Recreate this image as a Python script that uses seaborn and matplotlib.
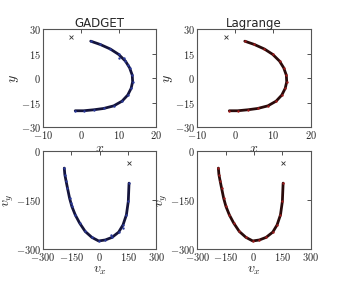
import numpy as np
import pandas as pd
import matplotlib
matplotlib.use("Agg")
import matplotlib.pyplot as plt
import seaborn as sns
from matplotlib.ticker import FuncFormatter

# orbita nel piano x-y
orb_x = [2.6, 5.1, 7.8, 10.0, 11.8, 12.9, 13.6, 13.7, 13.3, 12.4, 10.9, 8.7, 6.0, 3.4, 0.7, -1.5]
orb_y = [22.6, 20.6, 17.8, 14.5, 10.4, 6.3, 1.8, -2.3, -6.3, -10.4, -14.1, -17.0, -18.6, -19.4, -20.0, -20.0]

# velocita' vx-vy
vel_x = [-188, -185, -178, -171, -160, -148, -130, -107, -77, -42, -6, 29, 65, 100, 123, 141, 151, 155]
vel_y = [-52, -72, -93, -113, -144, -169, -195, -220, -246, -264, -275, -272, -264, -248, -226, -195, -154, -98]

# punti sparsi fuori dalla curva (solo GADGET)
sparsi_x = [10.0, 11.5, 12.6]
sparsi_y = [12.0, 12.5, 8.0]
sparsi_vx = [125, -150, 60]
sparsi_vy = [-236, -160, -258]

# punto segnato con la x
marker_pos = (-2.5, 25)
marker_vel = (153, -35)

codici = ["GADGET", "Lagrange"]
colori_linea = ["#14143c", "#2a0a0a"]
colori_punti = ["#2b3a9c", "#a01c1c"]

x_ticks = [-10, 0, 10, 20]
y_ticks = [-30, -15, 0, 15, 30]
vx_ticks = [-300, -150, 0, 150, 300]
vy_ticks = [-300, -150, 0]

sns.set_theme(style="white")
plt.rcParams["font.family"] = ["DejaVu Sans"]
plt.rcParams["mathtext.fontset"] = "cm"
plt.rcParams["xtick.direction"] = "in"
plt.rcParams["ytick.direction"] = "in"
plt.rcParams["xtick.top"] = True
plt.rcParams["ytick.right"] = True
plt.rcParams["axes.edgecolor"] = "#555555"
plt.rcParams["axes.linewidth"] = 0.8

fmt = FuncFormatter(lambda v, p: f"${v:g}$")

fig, axes = plt.subplots(2, 2, figsize=(3.45, 2.88), dpi=100)
fig.subplots_adjust(left=0.125, right=0.9, top=0.899, bottom=0.135, wspace=0.36, hspace=0.245)

for j, nome in enumerate(codici):
    ax = axes[0, j]
    sns.lineplot(x=orb_x, y=orb_y, sort=False, ax=ax, color=colori_linea[j], lw=2.0)
    sns.scatterplot(x=orb_x, y=orb_y, ax=ax, color=colori_punti[j], s=3, linewidth=0, zorder=3)
    if j == 0:
        sns.scatterplot(x=sparsi_x, y=sparsi_y, ax=ax, color=colori_punti[j], s=3, linewidth=0, zorder=3)
    ax.scatter([marker_pos[0]], [marker_pos[1]], marker="x", s=8, color="#333333", linewidths=0.6)
    ax.set_xlim(-10, 20)
    ax.set_ylim(-30, 30)
    ax.set_xticks(x_ticks)
    ax.set_yticks(y_ticks)
    ax.set_xlabel("$x$", fontsize=10, labelpad=0)
    ax.set_ylabel("$y$", fontsize=10, labelpad=0)
    ax.set_title(nome, fontsize=8.5, pad=1.5)

    ax = axes[1, j]
    sns.lineplot(x=vel_x, y=vel_y, sort=False, ax=ax, color=colori_linea[j], lw=2.0)
    sns.scatterplot(x=vel_x, y=vel_y, ax=ax, color=colori_punti[j], s=3, linewidth=0, zorder=3)
    if j == 0:
        sns.scatterplot(x=sparsi_vx, y=sparsi_vy, ax=ax, color=colori_punti[j], s=3, linewidth=0, zorder=3)
    ax.scatter([marker_vel[0]], [marker_vel[1]], marker="x", s=8, color="#333333", linewidths=0.6)
    ax.set_xlim(-300, 300)
    ax.set_ylim(-300, 0)
    ax.set_xticks(vx_ticks)
    ax.set_yticks(vy_ticks)
    ax.set_xlabel("$v_x$", fontsize=10, labelpad=0)
    ax.set_ylabel("$v_y$", fontsize=10, labelpad=0)

for ax in axes.flat:
    ax.xaxis.set_major_formatter(fmt)
    ax.yaxis.set_major_formatter(fmt)
    ax.tick_params(labelsize=7.5, length=3, width=0.6, pad=1.5, color="#333333")

plt.savefig("out.png", dpi=100)
plt.close()
